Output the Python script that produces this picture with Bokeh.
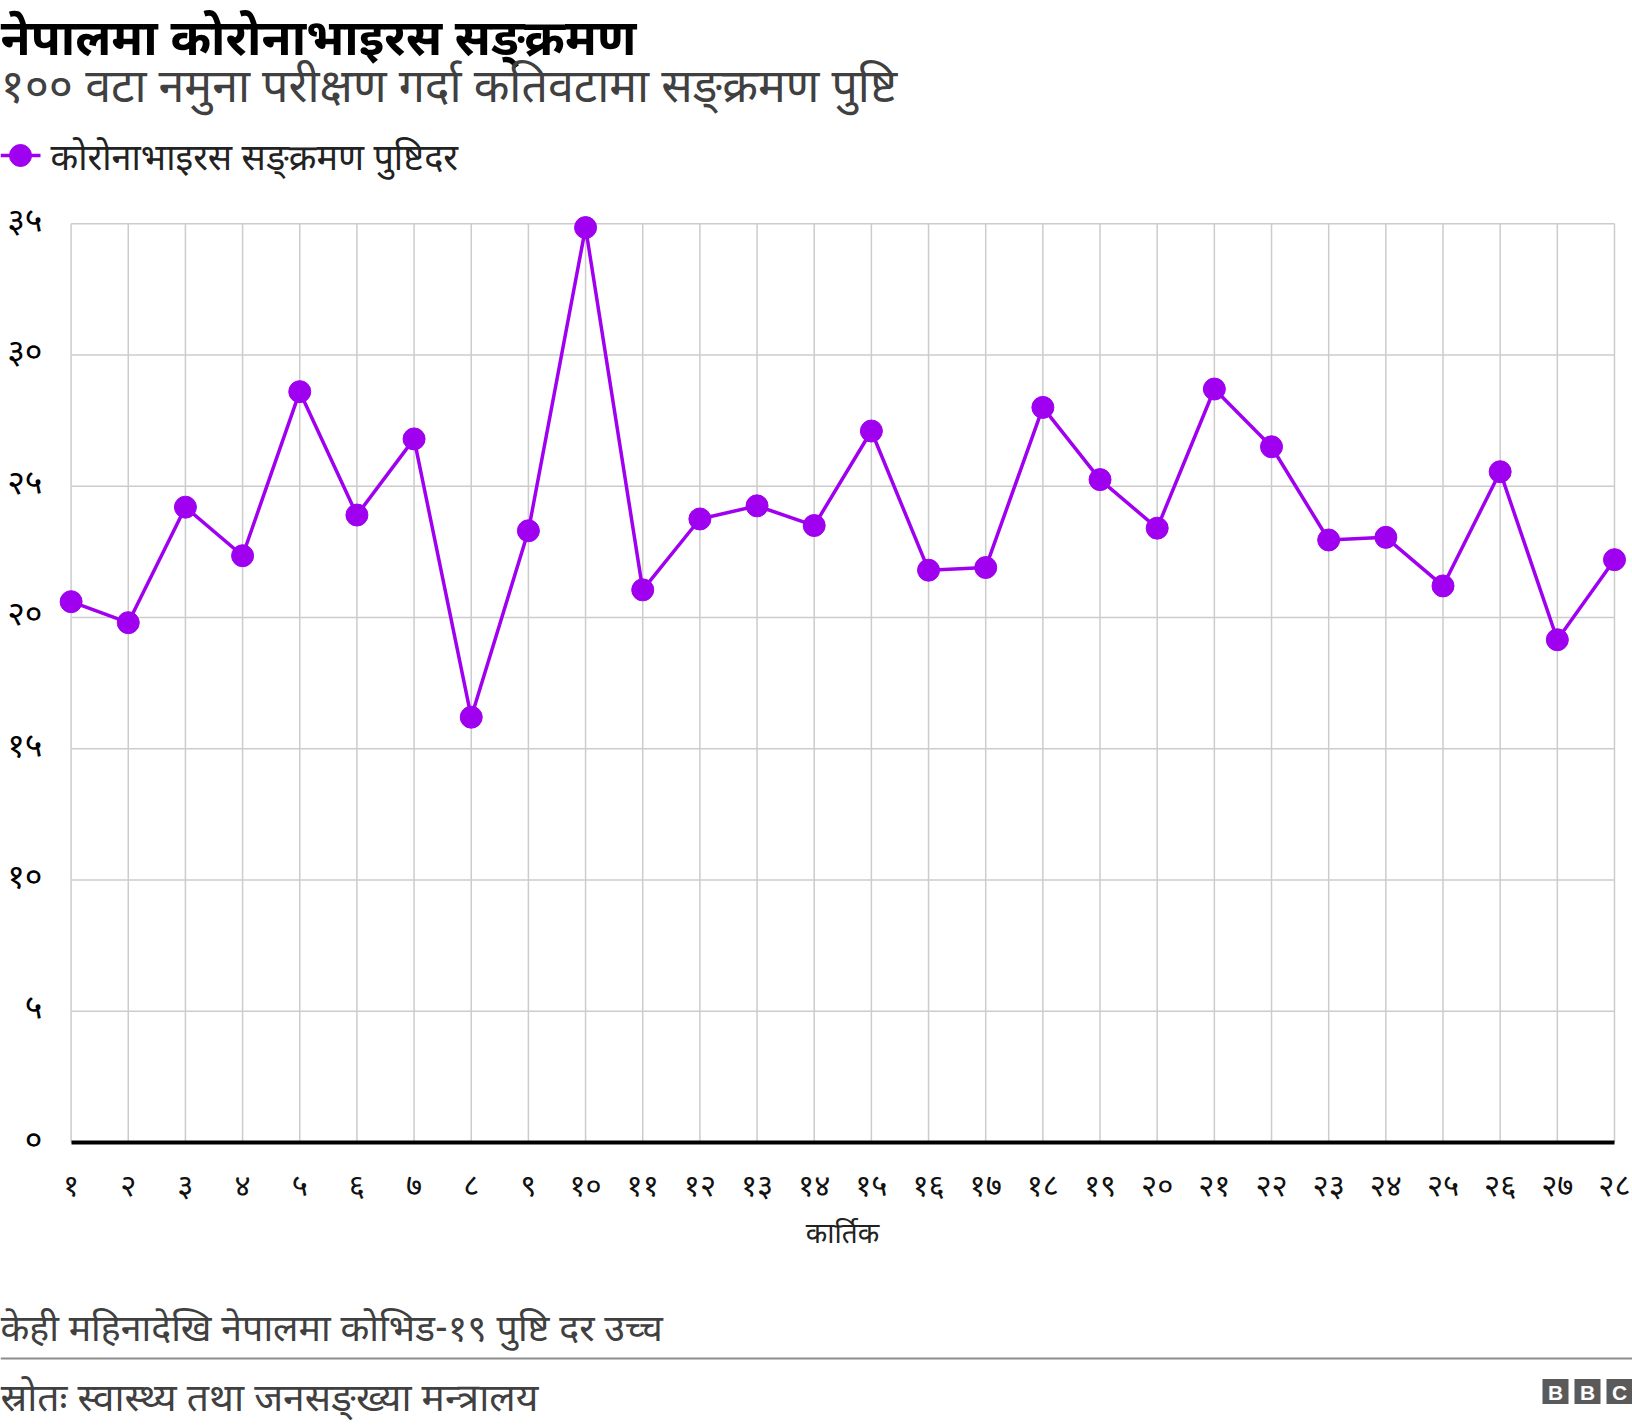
from bokeh.plotting import figure
from bokeh.models import Range1d, FixedTicker
from bokeh.layouts import column
from bokeh.core.properties import value
from bokeh.embed import file_html
from bokeh.resources import INLINE

# ---------------- data ----------------
days = list(range(1, 29))
day_labels = ["१", "२", "३", "४", "५", "६", "७", "८", "९", "१०", "११", "१२", "१३", "१४",
              "१५", "१६", "१७", "१८", "१९", "२०", "२१", "२२", "२३", "२४", "२५", "२६", "२७", "२८"]
positivity = [20.6, 19.8, 24.2, 22.35, 28.6, 23.9, 26.8, 16.2, 23.3, 34.85, 21.05, 23.75, 24.25, 23.5,
              27.1, 21.8, 21.9, 28.0, 25.25, 23.4, 28.7, 26.5, 22.95, 23.05, 21.2, 25.55, 19.15, 22.2]
y_ticks = [0, 5, 10, 15, 20, 25, 30, 35]
y_labels = ["०", "५", "१०", "१५", "२०", "२५", "३०", "३५"]

title_text = "नेपालमा कोरोनाभाइरस सङ्क्रमण"
subtitle_text = "१०० वटा नमुना परीक्षण गर्दा कतिवटामा सङ्क्रमण पुष्टि"
legend_text = "कोरोनाभाइरस सङ्क्रमण पुष्टिदर"
x_title = "कार्तिक"
note_text = "केही महिनादेखि नेपालमा कोभिड-१९ पुष्टि दर उच्च"
source_text = "स्रोतः स्वास्थ्य तथा जनसङ्ख्या मन्त्रालय"

FONT = "Noto Sans Devanagari, Noto Sans, sans-serif"
PURPLE = "#a000f0"
GRID = "#cccccc"
W = 1632

# ---------------- header ----------------
hdr = figure(width=W, height=190, x_range=Range1d(0, W), y_range=Range1d(190, 0),
             toolbar_location=None, output_backend="svg", x_axis_location=None,
             y_axis_location=None, min_border=0)
hdr.frame_align = False
hdr.outline_line_color = None
hdr.grid.visible = False
hdr.text(x=[0], y=[42], text=[title_text], text_font=value(FONT), text_font_size="49px",
         text_font_style="bold", text_color="#000000", text_baseline="alphabetic")
hdr.text(x=[0], y=[90], text=[subtitle_text], text_font=value(FONT), text_font_size="46.5px",
         text_color="#404040", text_baseline="alphabetic")
hdr.line(x=[0, 40], y=[155, 155], line_color=PURPLE, line_width=3.5)
hdr.scatter(x=[20], y=[155], size=22, fill_color=PURPLE, line_color=PURPLE)
hdr.text(x=[50], y=[161], text=[legend_text], text_font=value(FONT), text_font_size="36px",
         text_color="#222222", text_baseline="alphabetic")

# ---------------- main chart ----------------
p = figure(width=W, height=1100, x_range=Range1d(0.6746, 28.315), y_range=Range1d(0, 35.5),
           toolbar_location=None, output_backend="svg",
           min_border_left=52, min_border_right=0, min_border_top=20, min_border_bottom=148)
p.frame_align = False
p.outline_line_color = None
p.grid.visible = False

# grid lines limited to the data area
p.segment(x0=days, y0=[y_ticks[0]] * len(days), x1=days, y1=[y_ticks[-1]] * len(days),
          line_color=GRID, line_width=1.5)
p.segment(x0=[days[0]] * len(y_ticks), y0=y_ticks, x1=[days[-1]] * len(y_ticks), y1=y_ticks,
          line_color=GRID, line_width=1.5)

p.line(days, positivity, line_color=PURPLE, line_width=3.5)
p.scatter(days, positivity, size=22, fill_color=PURPLE, line_color=PURPLE)

xa = p.xaxis[0]
xa.ticker = FixedTicker(ticks=days)
xa.major_label_overrides = {d: l for d, l in zip(days, day_labels)}
xa.bounds = (days[0], days[-1])
xa.axis_line_color = "#000000"
xa.axis_line_width = 4
xa.major_tick_line_color = None
xa.minor_tick_line_color = None
xa.major_label_text_font = FONT
xa.major_label_text_font_size = "31px"
xa.major_label_text_color = "#111111"
xa.major_label_standoff = 19
xa.axis_label = x_title
xa.axis_label_text_font = FONT
xa.axis_label_text_font_size = "28px"
xa.axis_label_text_font_style = "normal"
xa.axis_label_text_color = "#222222"
xa.axis_label_standoff = 6

ya = p.yaxis[0]
ya.ticker = FixedTicker(ticks=y_ticks)
ya.major_label_overrides = {t: l for t, l in zip(y_ticks, y_labels)}
ya.axis_line_color = None
ya.major_tick_line_color = None
ya.minor_tick_line_color = None
ya.major_label_text_font = FONT
ya.major_label_text_font_size = "34px"
ya.major_label_text_color = "#000000"
ya.major_label_standoff = 4

# ---------------- footer ----------------
ftr = figure(width=W, height=136, x_range=Range1d(0, W), y_range=Range1d(1426, 1290),
             toolbar_location=None, output_backend="svg", x_axis_location=None,
             y_axis_location=None, min_border=0)
ftr.frame_align = False
ftr.outline_line_color = None
ftr.grid.visible = False
ftr.text(x=[0], y=[1331], text=[note_text], text_font=value(FONT), text_font_size="37.5px",
         text_color="#404040", text_baseline="alphabetic")
ftr.line(x=[0, W], y=[1358, 1358], line_color="#8c8c8c", line_width=2)
ftr.text(x=[0], y=[1401], text=[source_text], text_font=value(FONT), text_font_size="39px",
         text_color="#404040", text_baseline="alphabetic")
bbc_x = [1555, 1587, 1619]
bbc_letters = ["B", "B", "C"]
ftr.rect(x=bbc_x, y=[1391] * 3, width=26, height=25, fill_color="#5a5a5a", line_color=None)
ftr.text(x=bbc_x, y=[1392] * 3, text=bbc_letters, text_font=value("Liberation Sans"),
         text_font_size="21px", text_font_style="bold", text_color="#ffffff",
         text_align="center", text_baseline="middle")

layout = column(hdr, p, ftr, spacing=0)
open("out.html", "w").write(file_html(layout, INLINE))
